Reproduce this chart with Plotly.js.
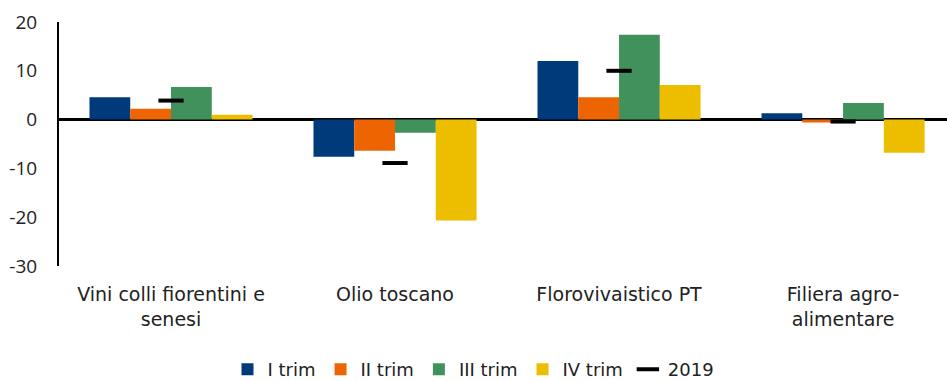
<!DOCTYPE html>
<html>
<head>
<meta charset="utf-8">
<script src="https://cdn.plot.ly/plotly-3.0.1.min.js"></script>
<style>html,body{margin:0;padding:0;background:#fff;}#chart{width:947px;height:381px;}</style>
</head>
<body>
<div id="chart"></div>
<script>
const categories = ["Vini colli fiorentini e<br>senesi", "Olio toscano", "Florovivaistico PT", "Filiera agro-<br>alimentare"];
const trim1 = [4.6, -7.6, 12.0, 1.3];
const trim2 = [2.2, -6.4, 4.6, -0.6];
const trim3 = [6.7, -2.7, 17.4, 3.4];
const trim4 = [1.0, -20.7, 7.1, -6.8];
const y2019 = [3.9, -8.9, 10.0, -0.4];
const seriesNames = ["I trim", "II trim", "III trim", "IV trim", "2019"];
const yTickVals = [-30, -20, -10, 0, 10, 20];
const yTickText = ["-30", "-20", "-10", "0", "10", "20"];

const colors = ["#003A7A", "#EC6500", "#41915C", "#EDBE00"];
const font = "DejaVu Sans, sans-serif";
const tickFontFam = "Open Sans, DejaVu Sans, sans-serif";

const barData = [trim1, trim2, trim3, trim4];
const traces = barData.map((vals, i) => ({
  type: "bar",
  x: categories,
  y: vals,
  name: seriesNames[i],
  marker: {color: colors[i], line: {width: 0}},
  hoverinfo: "y"
}));
traces.push({
  type: "scatter",
  mode: "markers",
  x: categories,
  y: y2019,
  name: seriesNames[4],
  marker: {symbol: "line-ew", size: 18, color: "#000", line: {width: 4, color: "#000"}}
});

const layout = {
  width: 947,
  height: 381,
  margin: {l: 59, r: 0, t: 22, b: 115},
  paper_bgcolor: "#fff",
  plot_bgcolor: "#fff",
  barmode: "group",
  bargap: 0.272,
  bargroupgap: 0,
  showlegend: true,
  font: {family: font, color: "#222", size: 18},
  xaxis: {
    type: "category",
    range: [-0.5, 3.464],
    showgrid: false,
    showline: false,
    ticks: "",
    ticklabelstandoff: 15,
    tickfont: {size: 19, family: font, color: "#222"},
    fixedrange: true
  },
  yaxis: {
    range: [-30, 20],
    tickvals: yTickVals,
    ticktext: yTickText,
    showgrid: false,
    showline: true,
    linecolor: "#000",
    linewidth: 2,
    zeroline: true,
    zerolinecolor: "#000",
    zerolinewidth: 2.5,
    ticks: "",
    ticklabelstandoff: 16,
    tickfont: {size: 19, family: tickFontFam, color: "#222"}
  },
  legend: {
    orientation: "h",
    xref: "container",
    yref: "container",
    x: 0.5,
    xanchor: "center",
    y: 0.03,
    yanchor: "middle",
    font: {size: 18, family: font, color: "#222"},
    tracegroupgap: 0
  }
};

Plotly.newPlot("chart", traces, layout, {displayModeBar: false, staticPlot: true});
</script>
</body>
</html>
